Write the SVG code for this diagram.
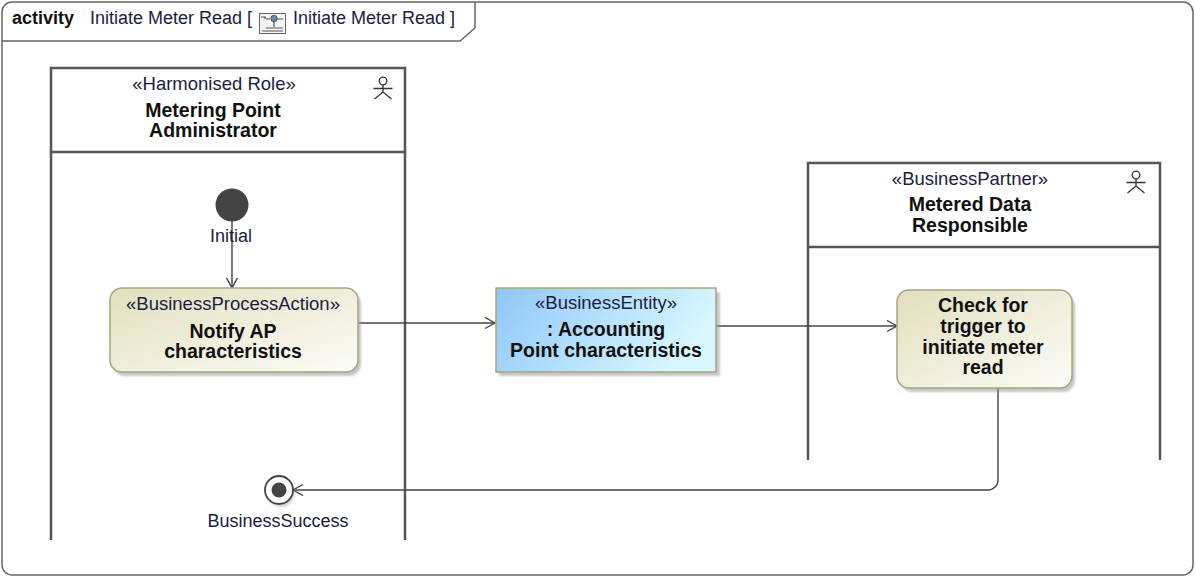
<svg xmlns="http://www.w3.org/2000/svg" width="1195" height="577" viewBox="0 0 1195 577">
<style>
text{font-family:"Liberation Sans",Arial,sans-serif;}
.st{font-size:18.5px;fill:#1c1c40;text-anchor:middle;}
.nm{font-size:19.5px;font-weight:bold;fill:#111;text-anchor:middle;}
.lbl{font-size:18px;fill:#1c1c40;text-anchor:middle;}
.lane{fill:none;stroke:#555;stroke-width:2.5;}
.conn{fill:none;stroke:#444;stroke-width:1.4;}
.actor{fill:none;stroke:#333;stroke-width:1.3;}
.act{fill:url(#gAct);stroke:#a6a67a;stroke-width:1.5;}
.shadow{fill:#999;opacity:0.55;filter:url(#blur);}
</style>
<defs>
<linearGradient id="gAct" x1="0" y1="0" x2="1" y2="1">
<stop offset="0" stop-color="#e2dfbd"/>
<stop offset="1" stop-color="#fcfcf8"/>
</linearGradient>
<linearGradient id="gEnt" x1="0" y1="0" x2="1" y2="0.3">
<stop offset="0" stop-color="#8ec6fa"/>
<stop offset="1" stop-color="#d8f7ff"/>
</linearGradient>
<filter id="blur" x="-10%" y="-10%" width="120%" height="120%"><feGaussianBlur stdDeviation="1.2"/></filter>
<marker id="arr" markerWidth="14" markerHeight="14" refX="11" refY="6" orient="auto" markerUnits="userSpaceOnUse">
<path d="M1,0.5 L11,6 L1,11.5" fill="none" stroke="#444" stroke-width="1.4"/>
</marker>
</defs>

<g id="frame">
<path d="M12,2 H1183 A10,10 0 0 1 1193,12 V565 A10,10 0 0 1 1183,575 H12 A10,10 0 0 1 2,565 V12 A10,10 0 0 1 12,2 Z" fill="#fff" stroke="#666" stroke-width="1.5"/>
<path d="M2,41 H460 L475,28 V2" fill="none" stroke="#666" stroke-width="1.5"/>
<text x="12" y="24" style="font-size:18px;font-weight:bold;fill:#111">activity</text>
<text x="90" y="24" style="font-size:18px;fill:#1c1c40">Initiate Meter Read [</text>
<g id="diagram-icon">
<rect x="259.5" y="13.5" width="26" height="20" fill="#f4f4f4" stroke="#666" stroke-width="1"/>
<path d="M261,17 H266 M265,17 V19 M266,19 H270 M275,19 H283 M274,19 V27 M266,28 H283 M262,31 H283" stroke="#555" stroke-width="1.2" fill="none"/>
<circle cx="274" cy="18.5" r="3.2" fill="#6a8ab0" stroke="#444" stroke-width="0.8"/>
</g>
<text x="293" y="24" style="font-size:18px;fill:#1c1c40">Initiate Meter Read ]</text>
</g>

<g id="lane-mpa">
<path class="lane" d="M51,540 V68 H405 V540 M51,152 H405"/>
<text class="st" x="214" y="90">«Harmonised Role»</text>
<text class="nm" x="213" y="117">Metering Point</text>
<text class="nm" x="213" y="137">Administrator</text>
<g class="actor">
<circle cx="383" cy="81" r="3.8"/>
<path d="M383,84.8 V92 M373.5,88.5 H392.5 M374.5,99 L383,92 L391.5,99"/>
</g>
</g>

<g id="lane-mdr">
<path class="lane" d="M808,460 V163 H1160 V460 M808,247 H1160"/>
<text class="st" x="970" y="185">«BusinessPartner»</text>
<text class="nm" x="970" y="211">Metered Data</text>
<text class="nm" x="970" y="232">Responsible</text>
<g class="actor">
<circle cx="1136" cy="175" r="3.8"/>
<path d="M1136,178.8 V186 M1126.5,182.5 H1145.5 M1127.5,193 L1136,186 L1144.5,193"/>
</g>
</g>

<g id="connectors">
<path class="conn" d="M232,205 V288" marker-end="url(#arr)"/>
<path class="conn" d="M358,323 H495" marker-end="url(#arr)"/>
<path class="conn" d="M716,326 H897" marker-end="url(#arr)"/>
<path class="conn" d="M998,388 V480 A10,10 0 0 1 988,490 H293" marker-end="url(#arr)"/>
</g>

<g id="initial">
<circle cx="232" cy="205" r="16.5" fill="#444"/>
<text class="lbl" x="231" y="242">Initial</text>
</g>

<g id="notify-ap">
<rect class="shadow" x="113" y="292" width="248" height="84" rx="12"/>
<rect class="act" x="110" y="288" width="248" height="84" rx="12"/>
<text class="st" x="233" y="310">«BusinessProcessAction»</text>
<text class="nm" x="233" y="338">Notify AP</text>
<text class="nm" x="233" y="358">characteristics</text>
</g>

<g id="accounting-point">
<rect class="shadow" x="499" y="292" width="221" height="84"/>
<rect x="496" y="288" width="220" height="84" fill="url(#gEnt)" stroke="#a6a67a" stroke-width="1.5"/>
<text class="st" x="606" y="309">«BusinessEntity»</text>
<text class="nm" x="606" y="336">: Accounting</text>
<text class="nm" x="606" y="357">Point characteristics</text>
</g>

<g id="check-trigger">
<rect class="shadow" x="900" y="294" width="175" height="98" rx="12"/>
<rect class="act" x="897" y="290" width="175" height="98" rx="12"/>
<text class="nm" x="983" y="312">Check for</text>
<text class="nm" x="983" y="333">trigger to</text>
<text class="nm" x="983" y="354">initiate meter</text>
<text class="nm" x="983" y="374">read</text>
</g>

<g id="business-success">
<circle cx="281" cy="493" r="14" fill="#aaa" opacity="0.5" filter="url(#blur)"/>
<circle cx="279" cy="490" r="14" fill="#fff" stroke="#444" stroke-width="1.8"/>
<circle cx="279" cy="490" r="7.5" fill="#444"/>
<text class="lbl" x="278" y="527">BusinessSuccess</text>
</g>
</svg>
